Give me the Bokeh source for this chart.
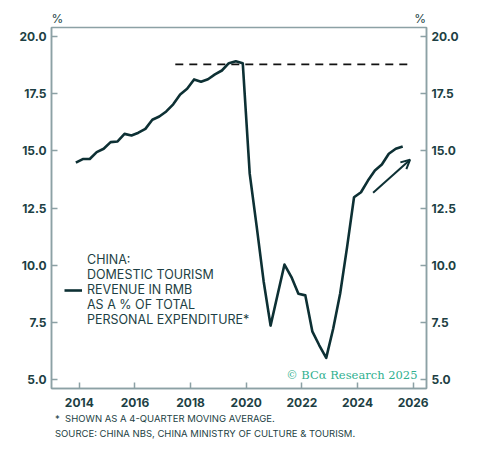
from bokeh.plotting import figure
from bokeh.models import (Range1d, LinearAxis, FixedTicker, Label, Arrow, OpenHead,
                          Legend, LegendItem, NumeralTickFormatter, Title)
from bokeh.embed import file_html
from bokeh.resources import INLINE

# ---- data (quarterly, Q4 2013 .. Q3 2025) ----
quarters = [f"{y}Q{q}" for y in range(2013, 2026) for q in range(1, 5)][3:3 + 48]
tourism_share = [
    14.48, 14.64, 14.64, 14.94, 15.09, 15.38, 15.41, 15.74,
    15.67, 15.79, 15.96, 16.36, 16.50, 16.72, 17.03, 17.46,
    17.71, 18.12, 18.02, 18.13, 18.34, 18.51, 18.83, 18.91,
    18.83, 14.00, 11.70, 9.30, 7.36, 8.70, 10.03, 9.48,
    8.75, 8.68, 7.11, 6.50, 5.95, 7.22, 8.75, 10.79,
    12.97, 13.19, 13.70, 14.14, 14.40, 14.87, 15.09, 15.19,
]
pre_covid_peak = 18.78
peak_span = [2017.45, 2025.92]
arrow_start = (2024.56, 13.17)
arrow_end = (2025.89, 14.61)
x_ticks = [2014, 2016, 2018, 2020, 2022, 2024, 2026]
y_ticks = [5.0, 7.5, 10.0, 12.5, 15.0, 17.5, 20.0]
footnote = "*\u00a0\u00a0SHOWN AS A 4-QUARTER MOVING AVERAGE."
source = "SOURCE: CHINA NBS, CHINA MINISTRY OF CULTURE & TOURISM."

def q_to_t(s):
    y, q = s.split("Q")
    return int(y) + (int(q) - 0.5) / 4.0

t = [q_to_t(s) for s in quarters]

LINE = "#0d3034"
TEXT = "#1d3f44"
AXIS = "#8ca1a5"
FONT = "Inter"

p = figure(width=500, height=454, output_backend="svg", toolbar_location=None,
           x_range=Range1d(2013.0, 2026.48), y_range=Range1d(4.61, 20.39),
           min_border_left=51, min_border_right=74, min_border_top=27, min_border_bottom=66,
           y_axis_location=None)
p.background_fill_color = "white"
p.border_fill_color = "white"
p.outline_line_color = AXIS
p.outline_line_width = 1.5
p.grid.visible = False

# "%" unit marks above both y axes
p.title.text = "%" + "\u00a0" * 104 + "%"
p.title.align = "left"
p.title.offset = 0
p.title.standoff = 4
p.title.text_font = FONT
p.title.text_font_size = "12px"
p.title.text_font_style = "normal"
p.title.text_color = TEXT

def style_axis(ax):
    ax.axis_line_color = AXIS
    ax.axis_line_width = 1.5
    ax.major_tick_line_color = AXIS
    ax.major_tick_line_width = 1.5
    ax.major_tick_in = 6
    ax.major_tick_out = 0
    ax.minor_tick_line_color = None
    ax.major_label_text_font = FONT
    ax.major_label_text_font_size = "12px"
    ax.major_label_text_font_style = "bold"
    ax.major_label_text_color = TEXT

xa = p.xaxis[0]
xa.ticker = FixedTicker(ticks=x_ticks)
style_axis(xa)
xa.major_label_standoff = 9

for side in ["left", "right"]:
    ax = LinearAxis(ticker=FixedTicker(ticks=y_ticks),
                    formatter=NumeralTickFormatter(format="0.0"))
    style_axis(ax)
    ax.major_label_standoff = 5
    p.add_layout(ax, side)

p.add_layout(Title(text=footnote + "\n" + source, align="left", offset=3.5, standoff=4,
                   text_font=FONT, text_font_size="9.5px", text_font_style="normal",
                   text_line_height=1.4, text_color=TEXT), "below")

# dashed pre-covid level
p.line(peak_span, [pre_covid_peak, pre_covid_peak], line_color="#111111",
       line_width=1.8, line_dash="8 6")

r = p.line(t, tourism_share, line_color=LINE, line_width=2.6, line_join="round")

p.add_layout(Arrow(end=OpenHead(size=9, line_color=LINE, line_width=2),
                   x_start=arrow_start[0], y_start=arrow_start[1],
                   x_end=arrow_end[0], y_end=arrow_end[1],
                   line_color=LINE, line_width=2))

legend = Legend(items=[LegendItem(
    label="CHINA:\nDOMESTIC TOURISM\nREVENUE IN RMB\nAS A % OF TOTAL\nPERSONAL EXPENDITURE*",
    renderers=[r])],
    location=(7, 55), border_line_alpha=0, background_fill_alpha=0,
    label_text_font=FONT, label_text_font_size="12.5px", label_text_color=TEXT,
    label_text_line_height=1.2, glyph_width=18, label_standoff=5, padding=6)
p.add_layout(legend)

p.add_layout(Label(x=366, y=13.5, x_units="screen", y_units="screen",
                   text="© BCα Research 2025", text_font="DejaVu Serif",
                   text_font_size="11.5px", text_color="#2fb08f",
                   text_align="right", text_baseline="middle"))

open("out.html", "w").write(file_html(p, INLINE))
